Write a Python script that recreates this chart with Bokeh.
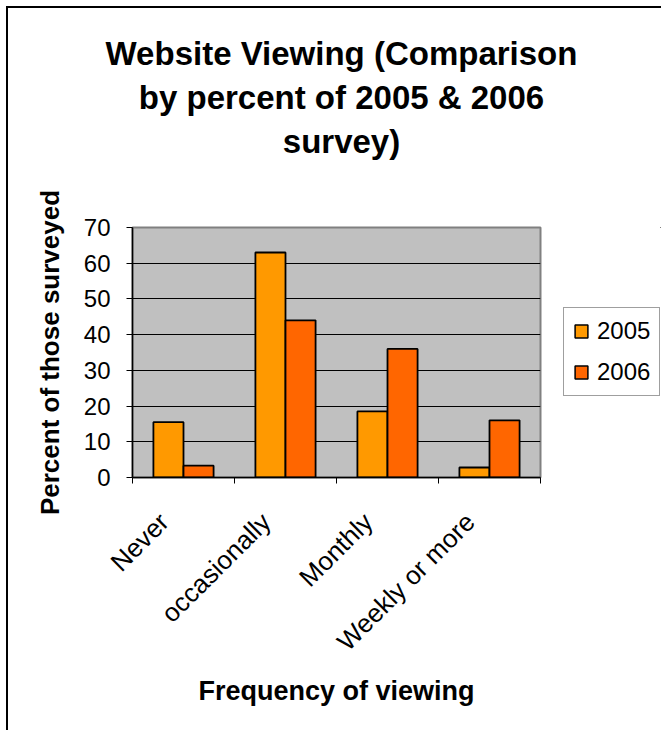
from math import pi
from bokeh.plotting import figure
from bokeh.layouts import column, row
from bokeh.models import (Range1d, FixedTicker, Legend, LegendItem, Label, ColumnDataSource)
from bokeh.embed import file_html
from bokeh.resources import INLINE

# ---- data ----
categories = ["Never", "occasionally", "Monthly", "Weekly or more"]
series_names = ["2005", "2006"]
values_2005 = [15.5, 63, 18.5, 2.8]
values_2006 = [3.3, 44, 36, 16]
y_ticks = [0, 10, 20, 30, 40, 50, 60, 70]
title_lines = ["Website Viewing (Comparison", "by percent of 2005 & 2006", "survey)"]
x_title = "Frequency of viewing"
y_title = "Percent of those surveyed"

FONT = "Liberation Sans"
C2005 = "#FF9900"
C2006 = "#FF6600"

centers = [i + 0.5 for i in range(len(categories))]
bounds = list(range(len(categories) + 1))
bar_w = 0.295
label_shift = 0.19  # rotated labels end a little left of the category centre

# ---------------- title strip ----------------
TW, TH = 653, 172
t = figure(width=TW, height=TH, x_range=Range1d(0, 1), y_range=Range1d(0, 1),
           x_axis_location=None, y_axis_location=None, min_border=0,
           output_backend="svg", toolbar_location=None)
t.outline_line_color = None
t.background_fill_color = "white"
t.border_fill_color = "white"
for g in t.grid:
    g.visible = False
for i, line in enumerate(title_lines):
    t.add_layout(Label(x=333, y=127 - 44 * i, x_units="screen", y_units="screen",
                       text=line, text_align="center", text_baseline="alphabetic",
                       text_font=FONT, text_font_size="33px", text_font_style="bold",
                       text_color="black"))

# ---------------- main chart ----------------
MW, MH = 545, 550
src05 = ColumnDataSource(dict(x=[c - bar_w / 2 for c in centers], top=values_2005))
src06 = ColumnDataSource(dict(x=[c + bar_w / 2 for c in centers], top=values_2006))

p = figure(width=MW, height=MH,
           x_range=Range1d(0, len(categories)), y_range=Range1d(0, 70),
           output_backend="svg", toolbar_location=None,
           min_border_left=124, min_border_right=13,
           min_border_top=47, min_border_bottom=253)
p.background_fill_color = "#C0C0C0"
p.border_fill_color = "white"
p.outline_line_color = "#808080"
p.outline_line_width = 2

r05 = p.vbar(x="x", top="top", bottom=0, width=bar_w, source=src05,
             fill_color=C2005, line_color="black", line_width=1.8)
r06 = p.vbar(x="x", top="top", bottom=0, width=bar_w, source=src06,
             fill_color=C2006, line_color="black", line_width=1.8)

p.xgrid.visible = False
p.ygrid.grid_line_color = "black"
p.ygrid.grid_line_width = 1

yax = p.yaxis[0]
yax.ticker = FixedTicker(ticks=y_ticks)
yax.axis_line_color = "black"
yax.axis_line_width = 1.5
yax.major_tick_in = 0
yax.major_tick_out = 6
yax.major_tick_line_color = "black"
yax.minor_tick_line_color = None
yax.major_label_text_font = FONT
yax.major_label_text_font_size = "24px"
yax.major_label_text_color = "black"
yax.major_label_standoff = 16
yax.axis_label = y_title
yax.axis_label_text_font = FONT
yax.axis_label_text_font_size = "26px"
yax.axis_label_text_font_style = "bold"
yax.axis_label_text_color = "black"
yax.axis_label_standoff = 16

xax = p.xaxis[0]
label_ticks = [c - label_shift for c in centers]
xax.ticker = FixedTicker(ticks=label_ticks, minor_ticks=bounds)
xax.major_label_overrides = {tk: name for tk, name in zip(label_ticks, categories)}
xax.major_label_orientation = pi / 4
xax.axis_line_color = "black"
xax.axis_line_width = 1.5
xax.major_tick_in = 0
xax.major_tick_out = 0
xax.minor_tick_in = 0
xax.minor_tick_out = 6
xax.minor_tick_line_color = "black"
xax.major_label_text_font = FONT
xax.major_label_text_font_size = "26px"
xax.major_label_text_color = "black"
xax.major_label_standoff = 34
xax.axis_label = x_title
xax.axis_label_text_font = FONT
xax.axis_label_text_font_size = "27px"
xax.axis_label_text_font_style = "bold"
xax.axis_label_text_color = "black"
xax.axis_label_standoff = 6

# ---------------- legend strip ----------------
# The same two series are drawn here again, entirely out of view (both ranges
# lie far from the data), so that the legend has real glyphs to show.
LW = TW - MW
lf = figure(width=LW, height=MH, x_range=Range1d(-101, -100), y_range=Range1d(-170, -100),
            x_axis_location=None, y_axis_location=None, min_border=0,
            output_backend="svg", toolbar_location=None)
lf.outline_line_color = None
lf.background_fill_color = "white"
lf.border_fill_color = "white"
for g in lf.grid:
    g.visible = False
k05 = lf.vbar(x="x", top="top", bottom=0, width=bar_w, source=src05,
              fill_color=C2005, line_color="black", line_width=1.5)
k06 = lf.vbar(x="x", top="top", bottom=0, width=bar_w, source=src06,
              fill_color=C2006, line_color="black", line_width=1.5)

legend = Legend(items=[LegendItem(label=series_names[0], renderers=[k05]),
                       LegendItem(label=series_names[1], renderers=[k06])],
                location=(10, 81))
legend.label_text_font = FONT
legend.label_text_font_size = "24px"
legend.label_text_color = "black"
legend.glyph_width = 16
legend.glyph_height = 16
legend.padding = 9
legend.spacing = 13
legend.label_standoff = 8
legend.margin = 0
legend.border_line_color = "#404040"
legend.border_line_width = 1
legend.background_fill_color = "white"
legend.background_fill_alpha = 1
lf.add_layout(legend)

layout = column(t, row(p, lf, spacing=0), spacing=0,
                styles={"margin-left": "6px", "margin-top": "6px",
                        "border-left": "2px solid black", "border-top": "2px solid black"})

open("out.html", "w").write(file_html(layout, INLINE))
